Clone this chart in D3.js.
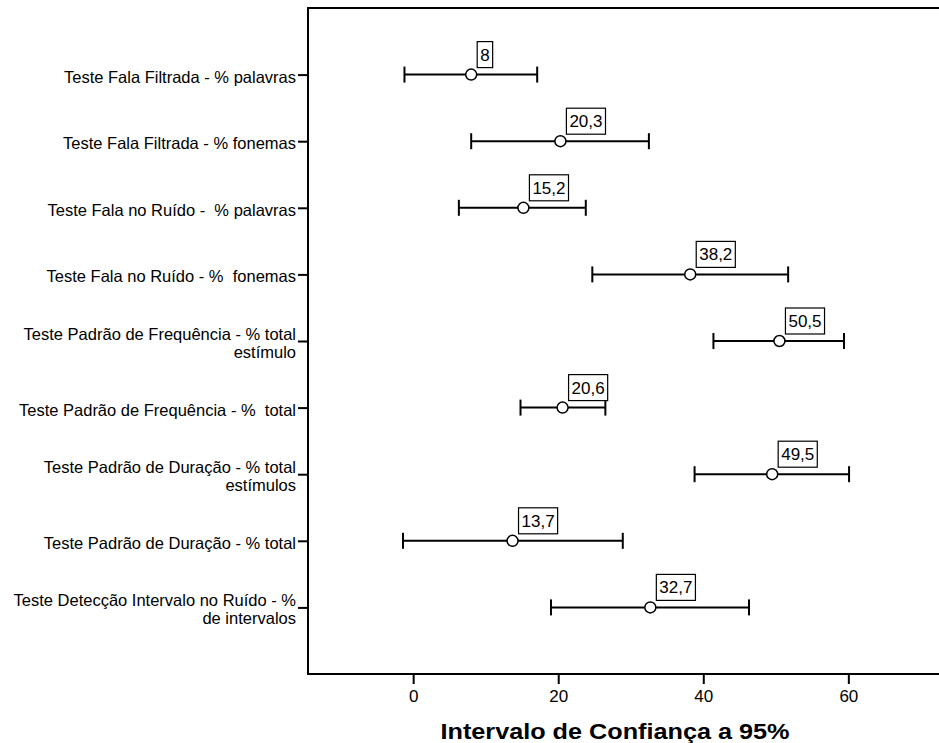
<!DOCTYPE html>
<html>
<head>
<meta charset="utf-8">
<script src="https://cdn.jsdelivr.net/npm/d3@7"></script>
<style>
  body { margin: 0; background: #fff; }
  text { font-family: "Liberation Sans", Arial, sans-serif; fill: #000; white-space: pre; }
</style>
</head>
<body>
<script>
// categories (multi-line labels split into lines)
var categories = [
    ["Teste Fala Filtrada - % palavras"],
    ["Teste Fala Filtrada - % fonemas"],
    ["Teste Fala no Ruído -  % palavras"],
    ["Teste Fala no Ruído - %  fonemas"],
    ["Teste Padrão de Frequência - % total", "estímulo"],
    ["Teste Padrão de Frequência - %  total"],
    ["Teste Padrão de Duração - % total", "estímulos"],
    ["Teste Padrão de Duração - % total"],
    ["Teste Detecção Intervalo no Ruído - %", "de intervalos"]
];
var means = [8, 20.3, 15.2, 38.2, 50.5, 20.6, 49.5, 13.7, 32.7];
var lows  = [-1.2, 8.0, 6.3, 24.7, 41.4, 14.8, 38.8, -1.4, 19.0];
var highs = [17.1, 32.5, 23.8, 51.7, 59.4, 26.5, 60.1, 28.9, 46.3];
var xTicks = [0, 20, 40, 60];

var w = 939, h = 743;
var pLeft = 308, pTop = 8, pBottom = 674, pRight = 939;

var svg = d3.select("body").append("svg").attr("width", w).attr("height", h);

var x = d3.scaleLinear().domain([-14.5, 72.5]).range([pLeft, pRight]);
var y = d3.scalePoint().domain(d3.range(categories.length)).range([pTop, pBottom]).padding(1);

var dataset = means.map(function (m, i) {
    return { i: i, mean: m, low: lows[i], high: highs[i], label: String(m).replace(".", ",") };
});

// frame (top + left + bottom lines)
svg.append("path")
    .attr("d", "M" + pRight + "," + pTop + "H" + pLeft + "V" + pBottom + "H" + pRight)
    .attr("fill", "none").attr("stroke", "#000").attr("stroke-width", 2);

// x axis
var xAxis = d3.axisBottom(x).tickValues(xTicks).tickSize(10).tickSizeOuter(0);
var gx = svg.append("g").attr("transform", "translate(0," + pBottom + ")").call(xAxis);
gx.attr("font-size", null).attr("font-family", null);
gx.select(".domain").remove();
gx.selectAll(".tick line").attr("stroke-width", 2);
gx.selectAll(".tick text").style("font-size", "17px").attr("y", 16).attr("dy", "0.71em");

// y axis ticks + labels
var yAxis = d3.axisLeft(y).tickSize(10).tickSizeOuter(0).tickFormat("");
var gy = svg.append("g").attr("transform", "translate(" + pLeft + ",0)").call(yAxis);
gy.select(".domain").remove();
gy.selectAll(".tick line").attr("stroke-width", 2);

var labels = svg.selectAll(".ylab").data(categories).enter().append("text")
    .attr("class", "ylab")
    .attr("text-anchor", "end")
    .style("font-size", "16.5px")
    .attr("transform", function (d, i) {
        return "translate(" + (pLeft - 12) + "," + y(i) + ")";
    });
labels.selectAll("tspan").data(function (d) { return d; }).enter().append("tspan")
    .attr("x", 0)
    .attr("y", function (d, j, nodes) {
        return nodes.length == 1 ? 8 : j * 18 - 1;
    })
    .text(function (d) { return d; });

// error bars
var bars = svg.selectAll(".bar").data(dataset).enter().append("g").attr("class", "bar");
bars.append("line")
    .attr("x1", d => x(d.low)).attr("x2", d => x(d.high))
    .attr("y1", d => y(d.i)).attr("y2", d => y(d.i))
    .attr("stroke", "#000").attr("stroke-width", 2);
bars.append("line")
    .attr("x1", d => x(d.low)).attr("x2", d => x(d.low))
    .attr("y1", d => y(d.i) - 8).attr("y2", d => y(d.i) + 8)
    .attr("stroke", "#000").attr("stroke-width", 2);
bars.append("line")
    .attr("x1", d => x(d.high)).attr("x2", d => x(d.high))
    .attr("y1", d => y(d.i) - 8).attr("y2", d => y(d.i) + 8)
    .attr("stroke", "#000").attr("stroke-width", 2);
bars.append("circle")
    .attr("cx", d => x(d.mean)).attr("cy", d => y(d.i)).attr("r", 5.5)
    .attr("fill", "#fff").attr("stroke", "#000").attr("stroke-width", 1.5);

// value labels in boxes
var vl = svg.selectAll(".vlab").data(dataset).enter().append("g").attr("class", "vlab")
    .attr("transform", d => "translate(" + (x(d.mean) + 6) + "," + (y(d.i) - 7) + ")");
vl.append("text")
    .attr("x", 3).attr("y", -7)
    .style("font-size", "17px")
    .text(d => d.label);
vl.each(function () {
    var g = d3.select(this);
    var bb = g.select("text").node().getBBox();
    g.insert("rect", "text")
        .attr("x", 0).attr("y", -26)
        .attr("width", bb.width + 6).attr("height", 26)
        .attr("fill", "#fff").attr("stroke", "#000").attr("stroke-width", 1.2);
});

// axis title
svg.append("text")
    .attr("x", 615).attr("y", 739)
    .attr("text-anchor", "middle")
    .attr("textLength", 349).attr("lengthAdjust", "spacingAndGlyphs")
    .style("font-size", "22px").style("font-weight", "bold")
    .text("Intervalo de Confiança a 95%");
</script>
</body>
</html>
